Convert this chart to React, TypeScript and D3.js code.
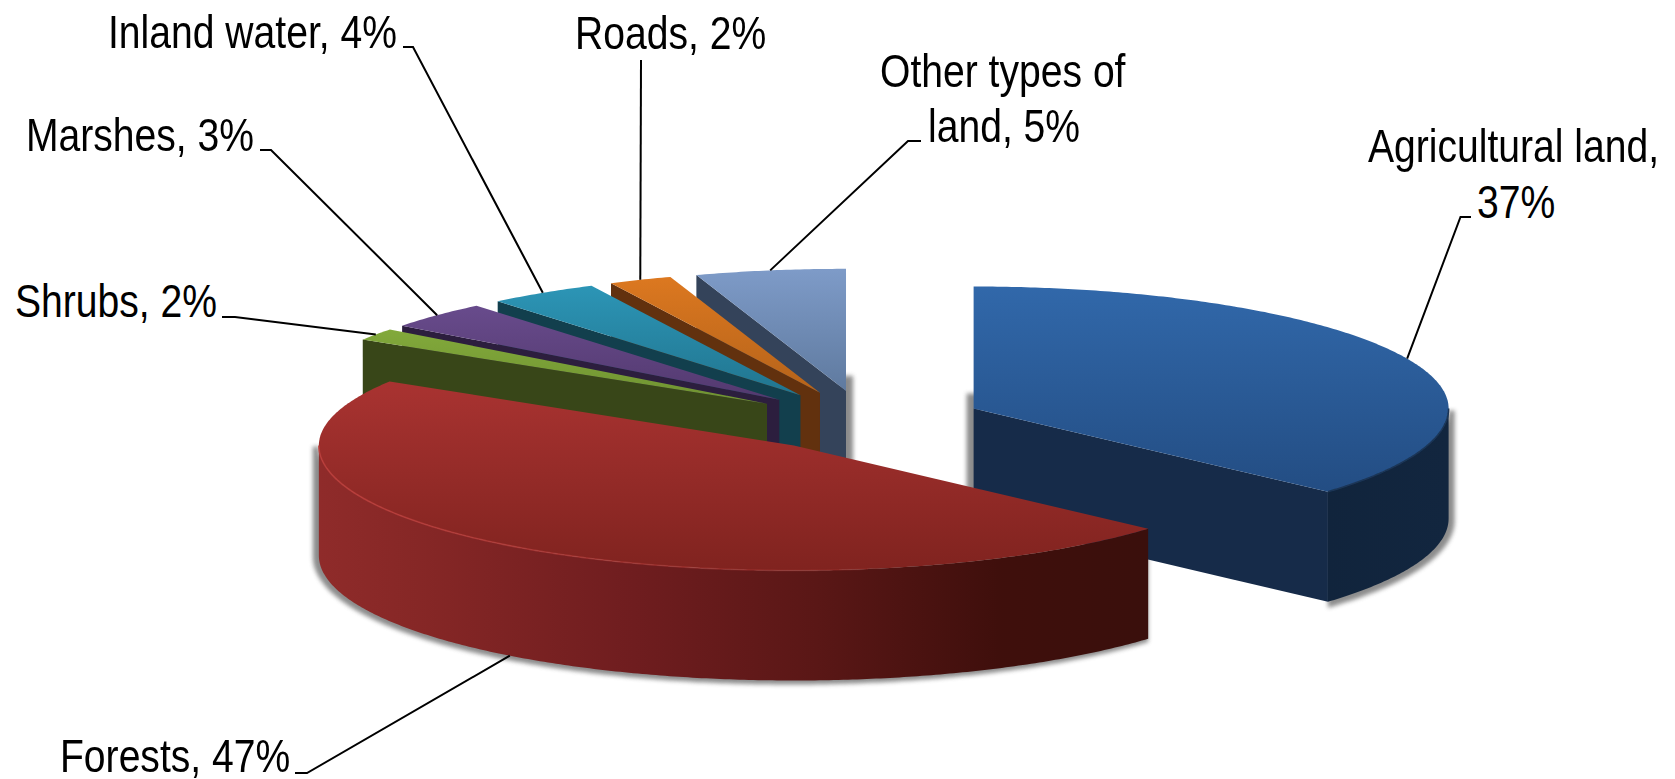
import React from "react";
import * as d3 from "d3";

const categories = ["Agricultural land", "Forests", "Shrubs", "Marshes", "Inland water", "Roads", "Other types of land"];
const shares = [36.6, 47.2, 1.6, 3.6, 3.75, 2.15, 5.1];
const labelLines = [
  ["Agricultural land,", "37%"],
  ["Forests, 47%"],
  ["Shrubs, 2%"],
  ["Marshes, 3%"],
  ["Inland water, 4%"],
  ["Roads, 2%"],
  ["Other types of", "land, 5%"],
];
const topColors = [
  ["#3168aa", "#234d83"],
  ["#a93331", "#80231f"],
  ["#82a93b", "#6f9231"],
  ["#684b8c", "#53396f"],
  ["#2c95b6", "#21758f"],
  ["#dc7820", "#b5631a"],
  ["#7e9bc8", "#5f7a9f"],
];
const cutColors = ["#162b49", "#4a1412", "#384618", "#2c1e3e", "#123f4d", "#62310e", "#34435a"];
const wallColors = [
  [[0, "#0d1e33"], [1, "#12263f"]],
  [[0, "#8f2b2a"], [0.12, "#862726"], [0.38, "#6f1d1f"], [0.6, "#5a1716"], [0.82, "#3f0f0c"], [1, "#3a0f0c"]],
  [[0, "#384618"], [1, "#384618"]],
  [[0, "#2c1e3e"], [1, "#2c1e3e"]],
  [[0, "#123f4d"], [1, "#123f4d"]],
  [[0, "#62310e"], [1, "#62310e"]],
  [[0, "#34435a"], [1, "#34435a"]],
];
// Paint order: back slices first, forests in front
const paintOrder = [6, 5, 4, 3, 2, 0, 1];

// Layout
const W = 1675, H = 779;
const CX = 865, CY = 421, RX = 475, RY_BACK = 122, RY_FRONT = 125, DEPTH = 110, EXPLODE = 119;
const FONT = 46, SQUEEZE = 0.85, LINE_W = 2;
const labelPos = [
  [[1368, 162], [1477, 218]],
  [[60, 772]],
  [[15, 317]],
  [[26, 151]],
  [[108, 48]],
  [[575, 49]],
  [[880, 87], [928, 142]],
];
const elbows = [
  [[1471, 217], [1460.5, 217]],
  [[295, 773], [307, 773]],
  [[222, 317], [235, 317]],
  [[260, 150], [271, 150]],
  [[403, 47], [413, 47]],
  [[641, 60]],
  [[921, 141], [908, 141]],
];
const leaderOnWall = [false, true, false, false, false, false, false];

const arcs = d3.pie<number>().sort(null).startAngle(0).endAngle(2 * Math.PI)(shares);
const lineGen = d3.line<number[]>();
const sx = (a: number) => Math.sin(a);
const sy = (a: number) => -Math.cos(a);
const ry = (a: number) => (Math.cos(a) < 0 ? RY_FRONT : RY_BACK);

export default function App() {
  const slices = arcs.map((d, i) => {
    const mid = (d.startAngle + d.endAngle) / 2;
    const ax = CX + EXPLODE * sx(mid);
    const ay = CY + (EXPLODE * RY_BACK / RX) * sy(mid);
    const pt = (a: number, dz = 0) => [ax + RX * sx(a), ay + ry(a) * sy(a) + dz];
    const sweep = (a0: number, a1: number, dz = 0) => {
      const n = Math.max(2, Math.ceil((a1 - a0) / 0.01));
      return d3.range(n + 1).map((k) => pt(a0 + ((a1 - a0) * k) / n, dz));
    };
    const top = lineGen([[ax, ay], ...sweep(d.startAngle, d.endAngle)]) + "Z";
    const w0 = Math.max(d.startAngle, Math.PI / 2);
    const w1 = Math.min(d.endAngle, 1.5 * Math.PI);
    const wall = w1 > w0
      ? lineGen([...sweep(w0, w1), ...sweep(w0, w1, DEPTH).reverse()]) + "Z"
      : null;
    const cutFace = (a: number) => {
      const p = pt(a), q = pt(a, DEPTH);
      return lineGen([[ax, ay], p, q, [ax, ay + DEPTH]]) + "Z";
    };
    const cuts: string[] = [];
    if (Math.sin(d.startAngle) < -1e-6) cuts.push(cutFace(d.startAngle));
    if (Math.sin(d.endAngle) > 1e-6) cuts.push(cutFace(d.endAngle));
    const xs = sweep(d.startAngle, d.endAngle).map((p) => p[0]);
    const anchor = pt(mid, leaderOnWall[i] ? DEPTH : 0);
    const leader = lineGen([...elbows[i], anchor]) as string;
    const touchesNorth = d.startAngle < 1e-6 || d.endAngle > 2 * Math.PI - 1e-6;
    const rim = !wall ? null : i === 1 ? lineGen(sweep(Math.PI * 0.95, w1)) : lineGen(sweep(w0, w1));
    return { i, ax, ay, top, wall, cuts, xMin: d3.min(xs)!, xMax: d3.max(xs)!, leader, touchesNorth, rim };
  });

  return (
    <svg width={W} height={H} viewBox={`0 0 ${W} ${H}`}
      style={{ position: "absolute", left: 0, top: 0, display: "block", background: "#fff" }}>
      <defs>
        <filter id="blur" x="-30%" y="-30%" width="160%" height="160%">
          <feGaussianBlur stdDeviation="2.2" />
        </filter>
        <filter id="soft" x="-5%" y="-5%" width="110%" height="110%">
          <feGaussianBlur stdDeviation="0.7" />
        </filter>
        {slices.map((s) => (
          <React.Fragment key={s.i}>
            <linearGradient id={`top${s.i}`} x1="0" y1="0" x2="0" y2="1">
              <stop offset="0" stopColor={topColors[s.i][0]} />
              <stop offset="1" stopColor={topColors[s.i][1]} />
            </linearGradient>
            <linearGradient id={`wall${s.i}`} gradientUnits="userSpaceOnUse" x1={s.xMin} x2={s.xMax} y1="0" y2="0">
              {wallColors[s.i].map(([o, c], k) => <stop key={k} offset={o as number} stopColor={c as string} />)}
            </linearGradient>
          </React.Fragment>
        ))}
        <linearGradient id="rim" gradientUnits="userSpaceOnUse" x1="319" x2="900" y1="0" y2="0">
          <stop offset="0" stopColor="#bb3d3a" stopOpacity="0.9" />
          <stop offset="1" stopColor="#bb3d3a" stopOpacity="0.15" />
        </linearGradient>
      </defs>

      {slices.filter((s) => s.wall || s.touchesNorth).map((s) => (
        <g key={`sh${s.i}`} filter="url(#blur)" opacity="0.75" fill="#666" stroke="none">
          {s.wall && <path d={s.wall} stroke="#666" strokeWidth="6" transform={s.i === 0 ? "translate(3,2)" : "translate(-3,1)"} />}
          {s.touchesNorth && <rect x={s.ax - 7} y={s.ay - 15} width={14} height={DEPTH + 15} />}
        </g>
      ))}

      {paintOrder.map((i) => {
        const s = slices[i];
        return (
          <g key={categories[i]}>
            {s.cuts.map((c, k) => <path key={k} d={c} fill={cutColors[i]} />)}
            {s.wall && <path d={s.wall} fill={`url(#wall${i})`} />}
            <path d={s.top} fill={`url(#top${i})`} />
            {s.rim && i === 1 && <path d={s.rim} fill="none" stroke="url(#rim)" strokeWidth="1.6" />}
            {s.rim && i === 0 && <path d={s.rim} fill="none" stroke="#1a3556" strokeWidth="1.6" filter="url(#soft)" />}
          </g>
        );
      })}

      {slices.map((s) => (
        <path key={`l${s.i}`} d={s.leader} fill="none" stroke="#000" strokeWidth={LINE_W} />
      ))}

      {labelLines.map((lines, i) =>
        lines.map((t, k) => (
          <text key={`${i}-${k}`} transform={`translate(${labelPos[i][k][0]},${labelPos[i][k][1]}) scale(${SQUEEZE},1)`}
            fontFamily="'Liberation Sans', Arial, sans-serif" fontSize={FONT} fill="#000">
            {t}
          </text>
        ))
      )}
    </svg>
  );
}
